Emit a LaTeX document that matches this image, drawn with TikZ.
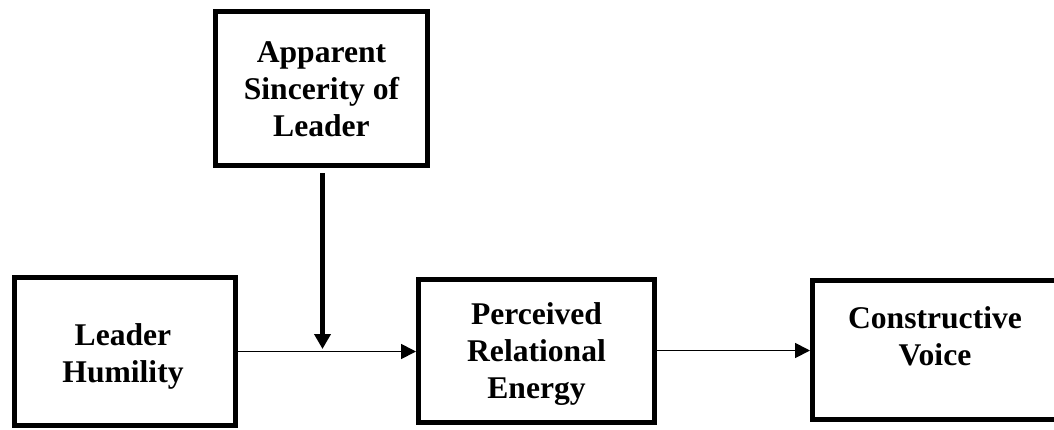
\documentclass[tikz,border=0pt]{standalone}
\usepackage{fontspec}
\setmainfont{Liberation Serif}
\usetikzlibrary{arrows.meta}
\begin{document}
\begin{tikzpicture}[x=1pt,y=-1pt,
  box/.style={draw=black,line width=5pt,rectangle,inner sep=0pt},
  lbl/.style={align=center,inner sep=0pt,font=\fontsize{31.6}{37}\selectfont\bfseries},
  thin arrow/.style={draw=black,line width=1.8pt,-{Triangle[length=15pt,width=15pt]}},
  thick arrow/.style={draw=black,line width=5pt,-{Triangle[length=15pt,width=16pt]}}]
\useasboundingbox (0,0) rectangle (1054,429);
\begin{scope}
\clip (0,0) rectangle (1054,429);
\node[box,minimum width=212pt,minimum height=154pt] (app) at (321.5,88.5) {};
\node[box,minimum width=221pt,minimum height=148pt] (lh) at (125,351.5) {};
\node[box,minimum width=236pt,minimum height=143pt] (pre) at (536.5,351) {};
\node[box,minimum width=245pt,minimum height=139pt] (cv) at (935,350) {};
\end{scope}
\node[lbl] (tapp) at (321.5,89) {Apparent\\Sincerity of\\Leader};
\node[lbl] (tlh) at (123,356) {Leader\\Humility};
\node[lbl] (tpre) at (536.5,354) {Perceived\\Relational\\Energy};
\node[lbl] (tcv) at (935,336) {Constructive\\Voice};
\coordinate (m) at (322.5,351.5);
\draw[thin arrow] (lh.east) -- (lh.east -| pre.west);
\draw[thin arrow] (pre.east |- 0,350.5) -- (cv.west |- 0,350.5);
\draw[thick arrow] ([yshift=-5pt]app.south -| m) -- ([yshift=2.5pt]m);
\end{tikzpicture}
\end{document}
